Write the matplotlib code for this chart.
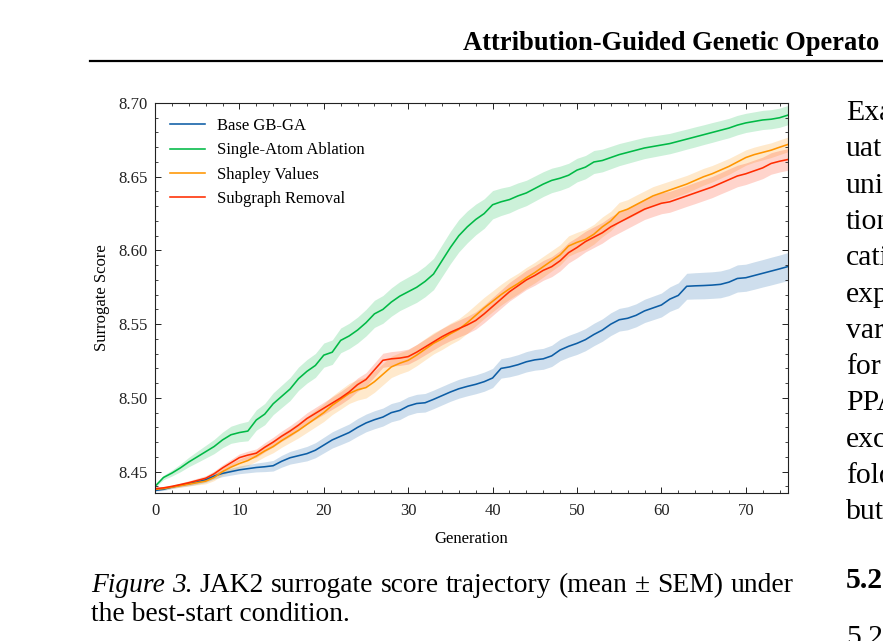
import matplotlib
matplotlib.use("Agg")
import matplotlib.pyplot as plt
from matplotlib.ticker import MultipleLocator, FormatStrFormatter
import numpy as np

# ---------------- data ----------------
generations = list(range(76))

base_mean = [8.4372, 8.4380, 8.4395, 8.4408, 8.4418, 8.4430, 8.4445, 8.4470, 8.4488, 8.4500,
             8.4512, 8.4520, 8.4528, 8.4533, 8.4540, 8.4570, 8.4594, 8.4608, 8.4622, 8.4645,
             8.4680, 8.4715, 8.4740, 8.4765, 8.4800, 8.4830, 8.4852, 8.4870, 8.4900, 8.4915,
             8.4945, 8.4962, 8.4967, 8.4990, 8.5015, 8.5040, 8.5062, 8.5078, 8.5092, 8.5110,
             8.5135, 8.5200, 8.5210, 8.5225, 8.5245, 8.5258, 8.5265, 8.5285, 8.5325, 8.5350,
             8.5370, 8.5395, 8.5430, 8.5460, 8.5500, 8.5530, 8.5540, 8.5560, 8.5590, 8.5610,
             8.5630, 8.5670, 8.5695, 8.5757, 8.5760, 8.5762, 8.5765, 8.5770, 8.5785, 8.5810,
             8.5815, 8.5830, 8.5845, 8.5860, 8.5875, 8.5891]
base_sem = [0.0005, 0.0008, 0.0010, 0.0012, 0.0014, 0.0016, 0.0018, 0.0020, 0.0022, 0.0024,
            0.0026, 0.0028, 0.0030, 0.0033, 0.0036, 0.0040, 0.0043, 0.0046, 0.0049, 0.0051,
            0.0053, 0.0055, 0.0057, 0.0058, 0.0060, 0.0060, 0.0061, 0.0061, 0.0062, 0.0062,
            0.0062, 0.0062, 0.0063, 0.0063, 0.0063, 0.0063, 0.0064, 0.0064, 0.0064, 0.0065,
            0.0065, 0.0066, 0.0067, 0.0068, 0.0069, 0.0070, 0.0071, 0.0072, 0.0073, 0.0074,
            0.0075, 0.0075, 0.0076, 0.0076, 0.0077, 0.0077, 0.0078, 0.0078, 0.0079, 0.0080,
            0.0081, 0.0083, 0.0085, 0.0088, 0.0089, 0.0090, 0.0090, 0.0091, 0.0091, 0.0092,
            0.0092, 0.0093, 0.0093, 0.0094, 0.0094, 0.0095]

ablation_mean = [8.4400, 8.4460, 8.4490, 8.4525, 8.4565, 8.4600, 8.4635, 8.4670, 8.4715, 8.4750,
                 8.4765, 8.4775, 8.4850, 8.4890, 8.4960, 8.5010, 8.5060, 8.5130, 8.5180, 8.5220,
                 8.5290, 8.5310, 8.5390, 8.5420, 8.5460, 8.5510, 8.5570, 8.5600, 8.5650, 8.5690,
                 8.5720, 8.5750, 8.5790, 8.5840, 8.5930, 8.6020, 8.6100, 8.6160, 8.6210, 8.6250,
                 8.6310, 8.6330, 8.6345, 8.6370, 8.6390, 8.6420, 8.6450, 8.6475, 8.6490, 8.6510,
                 8.6545, 8.6565, 8.6600, 8.6610, 8.6630, 8.6650, 8.6665, 8.6680, 8.6695, 8.6705,
                 8.6715, 8.6725, 8.6740, 8.6755, 8.6770, 8.6785, 8.6800, 8.6815, 8.6830, 8.6850,
                 8.6865, 8.6875, 8.6885, 8.6890, 8.6900, 8.6918]
ablation_sem = [0.0008, 0.0015, 0.0020, 0.0026, 0.0032, 0.0038, 0.0043, 0.0048, 0.0053, 0.0058,
                0.0062, 0.0066, 0.0069, 0.0072, 0.0074, 0.0076, 0.0078, 0.0079, 0.0080, 0.0081,
                0.0082, 0.0083, 0.0084, 0.0086, 0.0088, 0.0090, 0.0092, 0.0094, 0.0096, 0.0098,
                0.0100, 0.0102, 0.0104, 0.0106, 0.0108, 0.0110, 0.0110, 0.0108, 0.0104, 0.0100,
                0.0096, 0.0093, 0.0090, 0.0088, 0.0086, 0.0085, 0.0084, 0.0083, 0.0082, 0.0081,
                0.0080, 0.0079, 0.0078, 0.0077, 0.0076, 0.0075, 0.0074, 0.0073, 0.0072, 0.0071,
                0.0070, 0.0069, 0.0069, 0.0068, 0.0068, 0.0067, 0.0067, 0.0066, 0.0066, 0.0066,
                0.0065, 0.0065, 0.0065, 0.0065, 0.0065, 0.0065]

shapley_mean = [8.4380, 8.4385, 8.4395, 8.4405, 8.4415, 8.4425, 8.4435, 8.4460, 8.4500, 8.4530,
                8.4555, 8.4575, 8.4605, 8.4640, 8.4670, 8.4710, 8.4745, 8.4780, 8.4820, 8.4860,
                8.4900, 8.4950, 8.4990, 8.5030, 8.5055, 8.5070, 8.5110, 8.5160, 8.5210, 8.5235,
                8.5255, 8.5290, 8.5330, 8.5370, 8.5400, 8.5435, 8.5465, 8.5510, 8.5560, 8.5610,
                8.5655, 8.5700, 8.5740, 8.5775, 8.5815, 8.5850, 8.5890, 8.5930, 8.5970, 8.6030,
                8.6055, 8.6075, 8.6110, 8.6160, 8.6200, 8.6260, 8.6280, 8.6310, 8.6340, 8.6370,
                8.6390, 8.6410, 8.6430, 8.6450, 8.6475, 8.6500, 8.6520, 8.6545, 8.6570, 8.6600,
                8.6630, 8.6650, 8.6665, 8.6680, 8.6700, 8.6719]
shapley_sem = [0.0005, 0.0007, 0.0009, 0.0011, 0.0013, 0.0015, 0.0018, 0.0021, 0.0024, 0.0027,
               0.0030, 0.0033, 0.0036, 0.0039, 0.0042, 0.0045, 0.0048, 0.0051, 0.0054, 0.0057,
               0.0060, 0.0063, 0.0066, 0.0068, 0.0070, 0.0071, 0.0072, 0.0072, 0.0072, 0.0072,
               0.0072, 0.0072, 0.0072, 0.0072, 0.0072, 0.0072, 0.0072, 0.0072, 0.0072, 0.0072,
               0.0071, 0.0071, 0.0071, 0.0070, 0.0070, 0.0070, 0.0070, 0.0069, 0.0069, 0.0069,
               0.0068, 0.0068, 0.0067, 0.0067, 0.0066, 0.0066, 0.0065, 0.0065, 0.0064, 0.0063,
               0.0062, 0.0061, 0.0060, 0.0059, 0.0058, 0.0057, 0.0056, 0.0055, 0.0054, 0.0053,
               0.0052, 0.0051, 0.0051, 0.0050, 0.0050, 0.0050]

subgraph_mean = [8.4385, 8.4390, 8.4400, 8.4412, 8.4425, 8.4440, 8.4455, 8.4485, 8.4525, 8.4560,
                 8.4595, 8.4612, 8.4625, 8.4665, 8.4700, 8.4740, 8.4775, 8.4815, 8.4860, 8.4895,
                 8.4930, 8.4965, 8.5000, 8.5040, 8.5090, 8.5125, 8.5190, 8.5255, 8.5265, 8.5270,
                 8.5280, 8.5310, 8.5345, 8.5380, 8.5415, 8.5445, 8.5470, 8.5495, 8.5525, 8.5570,
                 8.5620, 8.5670, 8.5720, 8.5760, 8.5800, 8.5830, 8.5865, 8.5890, 8.5930, 8.5985,
                 8.6020, 8.6060, 8.6090, 8.6120, 8.6160, 8.6190, 8.6220, 8.6250, 8.6280, 8.6300,
                 8.6320, 8.6330, 8.6350, 8.6370, 8.6390, 8.6410, 8.6430, 8.6455, 8.6480, 8.6505,
                 8.6520, 8.6540, 8.6560, 8.6590, 8.6605, 8.6617]
subgraph_sem = [0.0005, 0.0007, 0.0009, 0.0011, 0.0013, 0.0015, 0.0017, 0.0019, 0.0021, 0.0023,
                0.0025, 0.0027, 0.0029, 0.0031, 0.0033, 0.0035, 0.0037, 0.0038, 0.0039, 0.0040,
                0.0041, 0.0042, 0.0043, 0.0044, 0.0045, 0.0046, 0.0047, 0.0048, 0.0049, 0.0050,
                0.0051, 0.0052, 0.0053, 0.0054, 0.0055, 0.0056, 0.0057, 0.0058, 0.0059, 0.0060,
                0.0061, 0.0062, 0.0063, 0.0064, 0.0065, 0.0066, 0.0067, 0.0068, 0.0069, 0.0070,
                0.0070, 0.0070, 0.0070, 0.0070, 0.0070, 0.0070, 0.0070, 0.0070, 0.0070, 0.0070,
                0.0071, 0.0071, 0.0071, 0.0071, 0.0072, 0.0072, 0.0072, 0.0072, 0.0073, 0.0073,
                0.0073, 0.0073, 0.0073, 0.0073, 0.0073, 0.0073]

series_labels = ["Base GB-GA", "Single-Atom Ablation", "Shapley Values", "Subgraph Removal"]
series_colors = ["#0C5DA5", "#00B945", "#FF9500", "#FF2C00"]

x_label = "Generation"
y_label = "Surrogate Score"
header_text = "Attribution-Guided Genetic Operato"
caption_italic = "Figure 3."
caption_rest = "JAK2 surrogate score trajectory (mean \u00b1 SEM) under"
caption_line2 = "the best-start condition."
body_fragments = ["Exa", "uat", "uni", "tion", "cati", "exp", "var", "for", "PPA", "exc", "fold", "but"]
section_heading = "5.2"
subsection_heading = "5.2"

# ---------------- style ----------------
plt.rcParams["font.family"] = ["Liberation Serif", "DejaVu Serif"]

W, H = 883, 641
fig = plt.figure(figsize=(W / 100, H / 100), dpi=100)
fig.patch.set_facecolor("white")

def fx(px):
    return px / W

def fy(py):
    return 1 - py / H

ax = fig.add_axes([fx(155), fy(493), fx(788) - fx(155), fy(103) - fy(493)])

means = [base_mean, ablation_mean, shapley_mean, subgraph_mean]
sems = [base_sem, ablation_sem, shapley_sem, subgraph_sem]
g = np.array(generations)
for m, s, col in zip(means, sems, series_colors):
    m = np.array(m)
    s = np.array(s)
    ax.fill_between(g, m - s, m + s, color=col, alpha=0.2, linewidth=0)
for m, lab, col in zip(means, series_labels, series_colors):
    ax.plot(g, m, color=col, lw=1.15, label=lab)

TS = 12
ax.set_xlim(0, 75)
ax.set_ylim(8.4355, 8.70)
ax.xaxis.set_major_locator(MultipleLocator(10))
ax.xaxis.set_minor_locator(MultipleLocator(2))
ax.yaxis.set_major_locator(MultipleLocator(0.05))
ax.yaxis.set_minor_locator(MultipleLocator(0.01))
ax.yaxis.set_major_formatter(FormatStrFormatter("%.2f"))
ax.tick_params(which="both", direction="in", top=True, right=True, labelsize=TS, colors="#222222")
ax.tick_params(which="major", length=4.5, width=0.7)
ax.tick_params(which="minor", length=2.5, width=0.6)
ax.tick_params(axis="x", which="major", pad=7.5)
ax.tick_params(axis="y", which="major", pad=5)
for sp in ax.spines.values():
    sp.set_linewidth(0.8)
    sp.set_color("#222222")
ax.set_xlabel(x_label, fontsize=TS, labelpad=8)
ax.set_ylabel(y_label, fontsize=TS, labelpad=6)

ax.legend(loc="upper left", frameon=False, fontsize=TS, handlelength=2.1,
          handletextpad=0.72, labelspacing=0.5, borderaxespad=0.5, borderpad=0.4)

# ---------------- page text ----------------
fig.canvas.draw()
renderer = fig.canvas.get_renderer()

def text_width(s, size, **kw):
    t = fig.text(0, 0, s, fontsize=size, **kw)
    w = t.get_window_extent(renderer).width
    t.remove()
    return w

# header
hs = 10 * 418 / text_width(header_text, 10, fontweight="bold")
fig.text(fx(463), fy(50), header_text, fontsize=hs, fontweight="bold", va="baseline", ha="left")
fig.add_artist(plt.Line2D([fx(90), fx(883)], [fy(60.5), fy(60.5)], color="black", lw=1.6))

# caption (justified first line)
cs = 10 * 259 / text_width(caption_line2, 10)
words = [(w, "italic") for w in caption_italic.split()] + [(w, "normal") for w in caption_rest.split()]
widths = [text_width(w, cs, fontstyle=st) for w, st in words]
gap = (702 - sum(widths)) / (len(words) - 1)
xpos = 91
for (w, st), wd in zip(words, widths):
    fig.text(fx(xpos), fy(592), w, fontsize=cs, fontstyle=st, va="baseline", ha="left")
    xpos += wd + gap
fig.text(fx(91), fy(621), caption_line2, fontsize=cs, va="baseline", ha="left")

# right column
bs = cs * 1.08
for i, frag in enumerate(body_fragments):
    fig.text(fx(846), fy(120 + i * 36.3), frag, fontsize=bs, va="baseline", ha="left")
fig.text(fx(846), fy(588), section_heading, fontsize=bs, fontweight="bold", va="baseline", ha="left")
fig.text(fx(846), fy(645), subsection_heading, fontsize=bs, va="baseline", ha="left")

fig.savefig("out.png", dpi=100)
